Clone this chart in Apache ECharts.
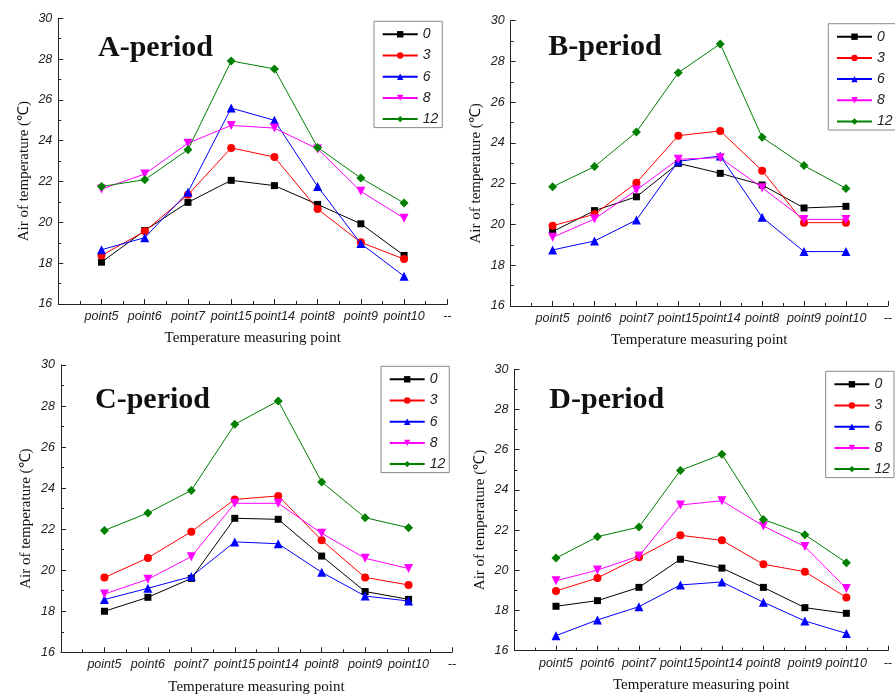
<!DOCTYPE html>
<html>
<head>
<meta charset="utf-8">
<script src="https://cdn.jsdelivr.net/npm/echarts@6/dist/echarts.min.js"></script>
<style>
  html, body { margin: 0; padding: 0; background: #fff; }
  #chart { width: 895px; height: 698px; }
</style>
</head>
<body>
<div id="chart"></div>
<script>
// Measuring points along the x axis, plus the empty start slot and the trailing "--" slot
const points = ['point5', 'point6', 'point7', 'point15', 'point14', 'point8', 'point9', 'point10'];
const tickLabels = ['', 'point5', 'point6', 'point7', 'point15', 'point14', 'point8', 'point9', 'point10', '--'];
const hours = ['0', '3', '6', '8', '12'];

// Air temperature (°C) per measuring point, one array per hour and period
const periodA0  = [18.05, 19.60, 20.98, 22.06, 21.80, 20.88, 19.93, 18.38];
const periodA3  = [18.38, 19.56, 21.35, 23.65, 23.20, 20.65, 19.02, 18.20];
const periodA6  = [18.66, 19.25, 21.48, 25.60, 25.00, 21.76, 18.96, 17.36];
const periodA8  = [21.63, 22.37, 23.88, 24.75, 24.62, 23.60, 21.52, 20.20];
const periodA12 = [21.76, 22.09, 23.56, 27.91, 27.52, 23.67, 22.17, 20.95];

const periodB0  = [19.65, 20.68, 21.36, 23.00, 22.51, 21.94, 20.81, 20.89];
const periodB3  = [19.94, 20.50, 22.05, 24.36, 24.59, 22.64, 20.09, 20.09];
const periodB6  = [18.75, 19.19, 20.22, 23.10, 23.36, 20.35, 18.67, 18.67];
const periodB8  = [19.37, 20.27, 21.69, 23.20, 23.28, 21.80, 20.25, 20.25];
const periodB12 = [21.85, 22.84, 24.54, 27.45, 28.86, 24.28, 22.89, 21.77];

const periodC0  = [18.00, 18.68, 19.60, 22.53, 22.48, 20.69, 18.96, 18.58];
const periodC3  = [19.64, 20.60, 21.88, 23.45, 23.62, 21.46, 19.65, 19.28];
const periodC6  = [18.57, 19.12, 19.69, 21.38, 21.29, 19.90, 18.74, 18.50];
const periodC8  = [18.84, 19.56, 20.66, 23.26, 23.26, 21.80, 20.58, 20.08];
const periodC12 = [21.94, 22.79, 23.89, 27.11, 28.25, 24.30, 22.56, 22.07];

const periodD0  = [18.21, 18.49, 19.15, 20.55, 20.11, 19.15, 18.14, 17.86];
const periodD3  = [18.97, 19.62, 20.65, 21.74, 21.49, 20.30, 19.93, 18.65];
const periodD6  = [16.75, 17.53, 18.19, 19.27, 19.42, 18.41, 17.48, 16.86];
const periodD8  = [19.48, 20.01, 20.71, 23.25, 23.46, 22.20, 21.18, 19.10];
const periodD12 = [20.61, 21.67, 22.15, 24.97, 25.77, 22.53, 21.77, 20.38];

const yTicks = { min: 16, max: 30, step: 2 };

// Per-hour line styling
const colors  = ['#000000', '#ff0000', '#0000ff', '#ff00ff', '#008000'];
const symbols = ['rect', 'circle', 'triangle', 'triangle', 'diamond'];
const rotates = [0, 0, 0, 180, 0];
const sizes   = [7, 8, 9, 9, 9];

// Panel layout
const panels = [
  { title: 'A-period', series: [periodA0, periodA3, periodA6, periodA8, periodA12],
    grid: { left: 58.3, top: 18.3, width: 389, height: 285.7 },
    legend: { left: 374, top: 21.3 }, titlePos: { left: 98, top: 33 } },
  { title: 'B-period', series: [periodB0, periodB3, periodB6, periodB8, periodB12],
    grid: { left: 510.7, top: 20.7, width: 388, height: 285.3 },
    legend: { left: 828.3, top: 23.7 }, titlePos: { left: 548.3, top: 32.5 } },
  { title: 'C-period', series: [periodC0, periodC3, periodC6, periodC8, periodC12],
    grid: { left: 61, top: 365, width: 391, height: 287.3 },
    legend: { left: 381, top: 366.3 }, titlePos: { left: 95, top: 385 } },
  { title: 'D-period', series: [periodD0, periodD3, periodD6, periodD8, periodD12],
    grid: { left: 514.5, top: 369.3, width: 380, height: 281.4 },
    legend: { left: 825.7, top: 371.3 }, titlePos: { left: 549.3, top: 385 } }
];

const axisColor = '#222';
const tickFont = { fontFamily: 'Liberation Sans', fontStyle: 'italic', fontSize: 12.5, color: '#222' };
const nameFont = { fontFamily: 'Liberation Serif', fontSize: 15, color: '#111' };

const option = {
  backgroundColor: '#fff',
  animation: false,
  title: [], grid: [], xAxis: [], yAxis: [], legend: [], series: []
};

panels.forEach((p, k) => {
  option.title.push({
    text: p.title, left: p.titlePos.left, top: p.titlePos.top, padding: 0,
    textStyle: { fontFamily: 'Liberation Serif', fontSize: 30, fontWeight: 'bold', color: '#111' }
  });
  option.grid.push(Object.assign({ containLabel: false }, p.grid));
  option.xAxis.push({
    type: 'value', gridIndex: k, min: 0, max: tickLabels.length - 1, interval: 1,
    name: 'Temperature measuring point', nameLocation: 'middle', nameGap: 27,
    nameTextStyle: nameFont,
    axisLine: { show: true, onZero: false, lineStyle: { color: axisColor, width: 1 } },
    axisTick: { show: true, inside: true, length: 5, lineStyle: { color: axisColor } },
    minorTick: { show: true, splitNumber: 2, length: 3, lineStyle: { color: axisColor } },
    splitLine: { show: false },
    axisLabel: Object.assign({ margin: 6, showMinLabel: true, showMaxLabel: true,
      formatter: v => tickLabels[v] }, tickFont)
  });
  option.yAxis.push({
    type: 'value', gridIndex: k, min: yTicks.min, max: yTicks.max, interval: yTicks.step,
    name: 'Air of temperature (℃)', nameLocation: 'middle', nameGap: 27,
    nameTextStyle: Object.assign({ padding: [0, 20, 0, 0] }, nameFont),
    axisLine: { show: true, onZero: false, lineStyle: { color: axisColor, width: 1 } },
    axisTick: { show: true, inside: true, length: 5, lineStyle: { color: axisColor } },
    minorTick: { show: true, splitNumber: 2, length: 3, lineStyle: { color: axisColor } },
    splitLine: { show: false },
    axisLabel: Object.assign({ margin: 6 }, tickFont)
  });
  option.legend.push({
    orient: 'vertical', left: p.legend.left, top: p.legend.top,
    data: hours, itemWidth: 35, itemHeight: 8, itemGap: 7.2,
    padding: [6, 4, 1.5, 7.7],
    borderColor: '#8a8a8a', borderWidth: 1, backgroundColor: '#fff',
    selectedMode: false,
    textStyle: { fontFamily: 'Liberation Sans', fontStyle: 'italic', fontSize: 14, lineHeight: 12, color: '#222' }
  });
  p.series.forEach((vals, j) => {
    option.series.push({
      type: 'line', name: hours[j], xAxisIndex: k, yAxisIndex: k,
      data: points.map((pt, i) => [i + 1, vals[i]]),
      symbol: symbols[j], symbolRotate: rotates[j], symbolSize: sizes[j],
      showAllSymbol: true,
      lineStyle: { color: colors[j], width: 1 },
      itemStyle: { color: colors[j] },
      z: 2 + j
    });
  });
});

const chart = echarts.init(document.getElementById('chart'), null, { renderer: 'canvas' });
chart.setOption(option);
</script>
</body>
</html>
